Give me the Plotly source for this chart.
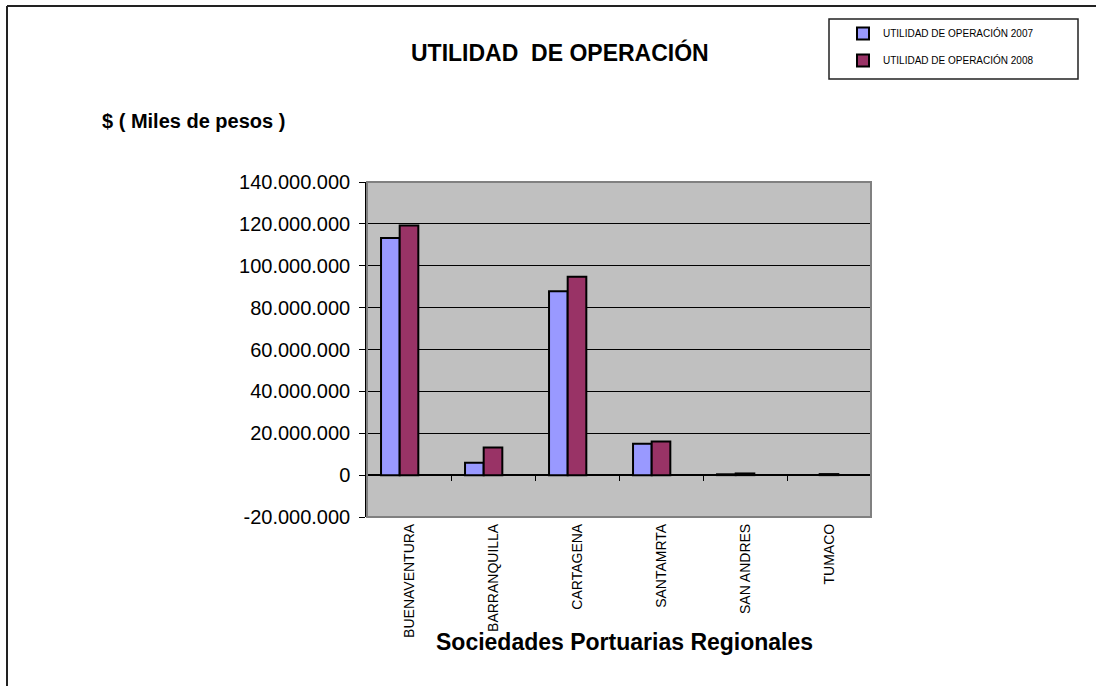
import plotly.graph_objects as go

# datos (pesos, miles)
puertos = ["BUENAVENTURA", "BARRANQUILLA", "CARTAGENA", "SANTAMRTA", "SAN ANDRES", "TUMACO"]
util_2007 = [113300000, 5900000, 87800000, 15000000, 400000, None]
util_2008 = [119200000, 13200000, 94700000, 16100000, 800000, 500000]
y_ticks = [-20000000, 0, 20000000, 40000000, 60000000, 80000000, 100000000, 120000000, 140000000]
y_labels = ["-20.000.000", "0", "20.000.000", "40.000.000", "60.000.000",
            "80.000.000", "100.000.000", "120.000.000", "140.000.000"]

W, H = 1096, 686
L, R, T, B = 367, 871, 182, 517
FONT = "Arial, Liberation Sans, sans-serif"


def px_x(x):
    return (x - L) / (R - L)


def px_y(y):
    return (B - y) / (B - T)


fig = go.Figure()
fig.add_trace(go.Bar(
    x=puertos, y=util_2007, name="UTILIDAD DE OPERACIÓN 2007",
    marker=dict(color="#9999FF", line=dict(color="black", width=2)),
    width=0.222, offset=-0.333, legendgroup="a",
))
fig.add_trace(go.Bar(
    x=puertos, y=util_2008, name="UTILIDAD DE OPERACIÓN 2008",
    marker=dict(color="#993366", line=dict(color="black", width=2)),
    width=0.222, offset=-0.111, legendgroup="b",
))
# traza vacia para que se dibuje el eje de las marcas sobre el cero
fig.add_trace(go.Scatter(x=[None], y=[None], xaxis="x2", showlegend=False, hoverinfo="skip"))

fig.update_layout(
    width=W, height=H,
    margin=dict(l=L, r=W - R, t=T, b=H - B, pad=0, autoexpand=False),
    paper_bgcolor="white",
    plot_bgcolor="#C0C0C0",
    barmode="overlay",
    font=dict(family=FONT, color="black"),
    showlegend=True,
    legend=dict(
        xref="container", yref="container",
        x=843 / W, y=1 - 19 / H, xanchor="left", yanchor="top",
        font=dict(size=10, family=FONT), bgcolor="rgba(0,0,0,0)",
        tracegroupgap=8, itemwidth=30,
    ),
)

fig.update_xaxes(
    type="category", range=[-0.5, 5.5], showgrid=False, showline=False,
    ticks="", tickangle=-90, tickfont=dict(size=14, family=FONT), ticklabelstandoff=3,
    automargin=False,
)
fig.update_yaxes(
    range=[-20000000, 140000000], tickvals=y_ticks, ticktext=y_labels,
    showgrid=True, gridcolor="black", gridwidth=1,
    zeroline=True, zerolinecolor="black", zerolinewidth=1.5,
    showline=True, linecolor="black", linewidth=1.5,
    ticks="outside", ticklen=6, tickcolor="black", ticklabelstandoff=5,
    tickfont=dict(size=20, family=FONT), automargin=False,
)

# marcas de division de categorias sobre la linea de cero
fig.update_layout(xaxis2=dict(
    overlaying="x", anchor="free", position=20 / 160, side="bottom",
    type="linear", range=[-0.5, 5.5], tickvals=[i - 0.5 for i in range(7)],
    ticks="outside", ticklen=5, tickcolor="black", tickwidth=1,
    showticklabels=False, showgrid=False, showline=False, zeroline=False,
    automargin=False,
))

shapes = [
    # borde gris del area de trazado
    dict(type="rect", xref="paper", yref="paper", x0=0, y0=0, x1=1, y1=1,
         line=dict(color="#808080", width=2), layer="above"),
    # marco exterior del grafico
    dict(type="line", xref="paper", yref="paper", x0=px_x(7), y0=px_y(6), x1=px_x(1110), y1=px_y(6),
         line=dict(color="#222222", width=2)),
    dict(type="line", xref="paper", yref="paper", x0=px_x(7), y0=px_y(6), x1=px_x(7), y1=px_y(700),
         line=dict(color="#222222", width=2)),
    # caja de la leyenda
    dict(type="rect", xref="paper", yref="paper", x0=px_x(829), y0=px_y(19), x1=px_x(1078), y1=px_y(79),
         line=dict(color="#222222", width=1.5)),
]
fig.update_layout(shapes=shapes)

fig.add_annotation(text="<b>UTILIDAD  DE OPERACIÓN</b>", xref="paper", yref="paper",
                   x=px_x(560), y=px_y(37), showarrow=False, font=dict(size=23, family=FONT))
fig.add_annotation(text="<b>$ ( Miles de pesos )</b>", xref="paper", yref="paper",
                   x=px_x(100), y=px_y(108), xanchor="left", showarrow=False,
                   font=dict(size=20, family=FONT))
fig.add_annotation(text="<b>Sociedades Portuarias Regionales</b>", xref="paper", yref="paper",
                   x=px_x(624), y=px_y(657), showarrow=False, font=dict(size=23, family=FONT))

# quitar el margen por defecto del body para que el marco llegue al borde
fig.write_html("out.html", config={"displayModeBar": False},
               post_script="document.body.style.margin='0';")
